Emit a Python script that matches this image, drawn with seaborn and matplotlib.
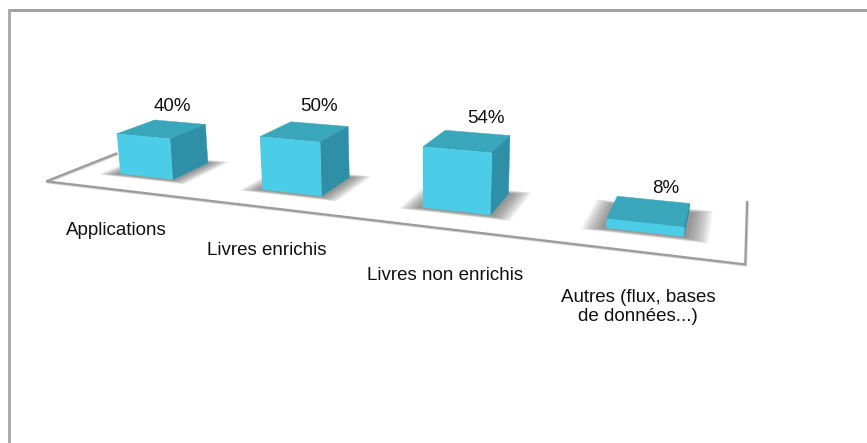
import matplotlib

matplotlib.use("Agg")
import matplotlib.pyplot as plt
from matplotlib.patches import Polygon
from matplotlib.transforms import Transform
import numpy as np
import seaborn as sns


CATEGORIES = [
    "Applications",
    "Livres enrichis",
    "Livres non enrichis",
    "Autres (flux, bases\nde données...)",
]
VALUES = [40, 50, 54, 8]
VALUE_LABELS = ["40%", "50%", "54%", "8%"]

# camera of the chart: (category, value, depth) -> pixel
CAMERA = np.array(
    [
        [128.180657, -0.123086, 47.546125, 146.366311],
        [4.897037, -1.048932, -6.292776, 176.665061],
        [-0.058769, -0.00029, 0.062907, 1.0],
    ]
)
BAR_WIDTH = 0.385
FLOOR_X = (-0.52, 3.485)
FLOOR_FRONT = -0.72
FLOOR_BACK = 1.75
LEFT_EDGE_END = 1.0

FRONT_COLOR = "#4bcde8"
TOP_COLOR = "#3aa6bc"
SIDE_COLOR = "#2f8fa6"
LINE_COLOR = "#9c9c9c"
TEXT_COLOR = "#111111"

VALUE_OFFSETS = [(-7, -16), (0, -18), (9, -14), (13, -11)]
LABEL_OFFSETS = [(-1.5, 41), (-1, 43), (5, 47), (0, 55)]


def project(x, value, depth):
    point = CAMERA @ np.array([x, value, depth, 1.0])
    return point[:2] / point[2]


class FaceProjection(Transform):
    """Maps (category, value) at a fixed depth to pixels."""

    input_dims = 2
    output_dims = 2
    is_separable = False
    has_inverse = False

    def __init__(self, face_depth):
        super().__init__()
        self.face_depth = face_depth

    def transform_non_affine(self, values):
        values = np.asarray(values, dtype=float)
        world = np.column_stack(
            [values[:, 0], values[:, 1], np.full(len(values), self.face_depth), np.ones(len(values))]
        )
        points = world @ CAMERA.T
        return points[:, :2] / points[:, 2:]


def add_face(ax, corners, color, zorder):
    xy = [project(*corner) for corner in corners]
    ax.add_patch(Polygon(xy, closed=True, facecolor=color, edgecolor=color, linewidth=0.3, zorder=zorder))


def add_shadow(ax, left, right):
    # soft shadow: stacked translucent floor rectangles
    for grow in np.linspace(0.0, 1.0, 12):
        x0 = left - 0.02 - 0.10 * grow
        x1 = right + 0.02 + 0.10 * grow
        d0 = -0.04 - 0.11 * grow
        d1 = 1.02 + 0.15 * grow
        corners = [(x0, 0, d0), (x1, 0, d0), (x1, 0, d1), (x0, 0, d1)]
        xy = [project(*corner) for corner in corners]
        ax.add_patch(Polygon(xy, closed=True, facecolor="#555555", edgecolor="none", alpha=0.07, zorder=1))


def draw_floor(ax):
    x0, x1 = FLOOR_X
    path = [
        (x0, 0, LEFT_EDGE_END),
        (x0, 0, FLOOR_FRONT),
        (x1, 0, FLOOR_FRONT),
        (x1, 0, FLOOR_BACK),
    ]
    xs, ys = zip(*[project(*corner) for corner in path])
    xs, ys = np.array(xs), np.array(ys)
    ax.plot(xs + 0.8, ys + 1.0, color="#d0d0d0", linewidth=1.6, zorder=2, solid_joinstyle="miter")
    ax.plot(xs, ys, color=LINE_COLOR, linewidth=1.6, zorder=2, solid_joinstyle="miter")


def main():
    sns.set_theme(style="white")
    plt.rcParams["font.family"] = ["Liberation Sans", "DejaVu Sans"]

    fig = plt.figure(figsize=(8.67, 4.43), dpi=100)
    ax = fig.add_axes([0, 0, 1, 1])
    sns.barplot(
        x=CATEGORIES,
        y=VALUES,
        color=FRONT_COLOR,
        saturation=1,
        width=BAR_WIDTH,
        linewidth=0,
        ax=ax,
    )
    ax.set_xlim(0, 867)
    ax.set_ylim(443, 0)
    ax.axis("off")

    front = FaceProjection(0.0) + ax.transData
    for patch in ax.patches:
        patch.set_transform(front)
        patch.set_zorder(4)

    ax.hlines(9.6, 8.2, 867, color=LINE_COLOR, linewidth=2.0, zorder=1)
    ax.vlines(9.3, 8.6, 443, color="#a6a6a6", linewidth=2.0, zorder=1)
    draw_floor(ax)

    for i, value in enumerate(VALUES):
        left, right = i - BAR_WIDTH / 2, i + BAR_WIDTH / 2
        add_shadow(ax, left, right)
        add_face(ax, [(left, value, 0), (right, value, 0), (right, value, 1), (left, value, 1)], TOP_COLOR, 3)
        add_face(ax, [(right, 0, 0), (right, value, 0), (right, value, 1), (right, 0, 1)], SIDE_COLOR, 3)

        px, py = project(i, value, 1)
        dx, dy = VALUE_OFFSETS[i]
        ax.text(px + dx, py + dy, VALUE_LABELS[i], ha="center", va="center", fontsize=13.5, color=TEXT_COLOR)

        px, py = project(i, 0, FLOOR_FRONT)
        dx, dy = LABEL_OFFSETS[i]
        ax.text(
            px + dx,
            py + dy,
            CATEGORIES[i],
            ha="center",
            va="center",
            fontsize=13.5,
            color=TEXT_COLOR,
            linespacing=1.15,
        )

    fig.savefig("out.png", dpi=100)
    plt.close(fig)


if __name__ == "__main__":
    main()
